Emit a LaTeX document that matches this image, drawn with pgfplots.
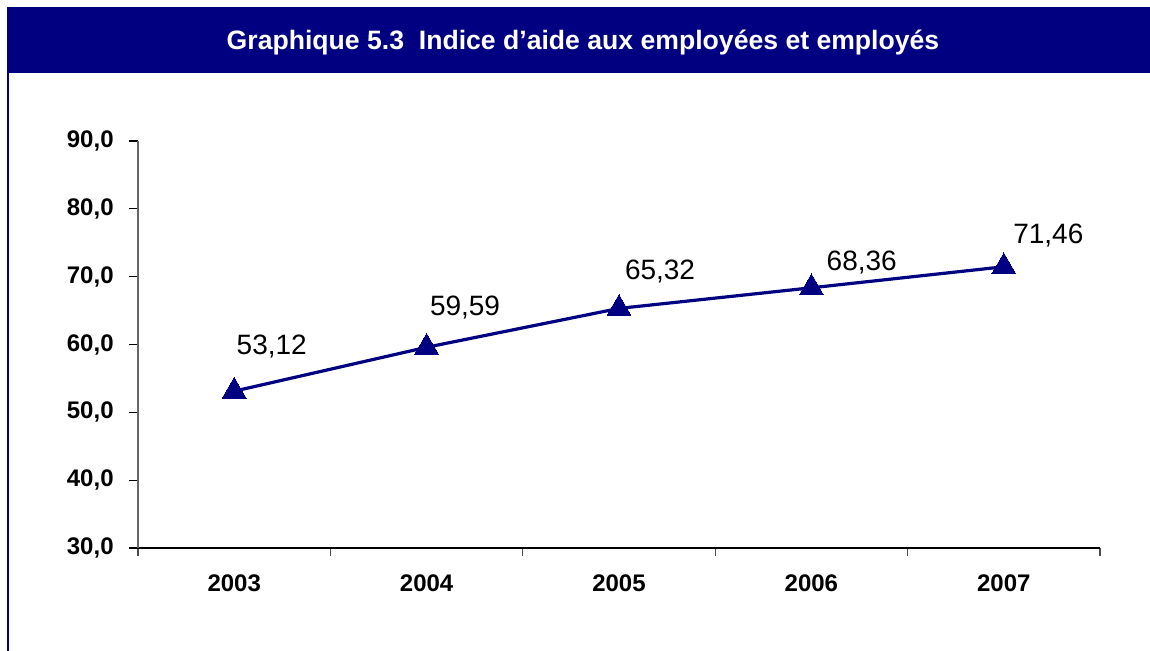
\documentclass[border=0pt]{standalone}
\usepackage{pgfplots}
\pgfplotsset{compat=1.18}
\usepackage{pgfplotstable}
\usepackage{fontspec}
\setmainfont{Liberation Sans}
\definecolor{navy}{RGB}{0,0,128}

\pgfplotstableread{
x y lbl dx dy
0 53.12 53,12 1.25 18.1
1 59.59 59,59 1.7 15.8
2 65.32 65,32 3.0 14.55
3 68.36 68,36 7.65 8.55
4 71.46 71,46 4.75 11.75
}\datatable

\begin{document}
\begin{tikzpicture}
\useasboundingbox (0,0) rectangle (575pt,-325.5pt);
\fill[navy] (3.5pt,-3.5pt) rectangle (575pt,-36.3pt);
\draw[navy, line width=1pt] (4pt,-36pt) -- (4pt,-325.5pt);
\node[anchor=base, text=white, inner sep=0pt, font=\fontsize{13.3}{15}\selectfont\bfseries]
  at (291.5pt,-24.7pt) {Graphique 5.3\ \ Indice d’aide aux employées et employés};
\begin{axis}[
  at={(69pt,-274pt)}, anchor=south west,
  scale only axis, width=481pt, height=203.5pt,
  xmin=-0.5, xmax=4.5, ymin=30, ymax=90,
  axis x line*=bottom, axis y line*=left,
  x axis line style={black, line width=0.6pt},
  y axis line style={black!60, line width=0.6pt},
  tick align=outside,
  xtick={0,1,2,3,4},
  xticklabels={2003,2004,2005,2006,2007},
  major x tick style={draw=none},
  minor xtick={-0.5,0.5,1.5,2.5,3.5,4.5},
  minor x tick style={black!70, line width=0.6pt},
  minor tick length=4pt,
  major tick length=4.5pt,
  ytick={30,40,50,60,70,80,90},
  yticklabels={{30,0},{40,0},{50,0},{60,0},{70,0},{80,0},{90,0}},
  y tick style={black, line width=0.6pt},
  ticklabel style={font=\fontsize{12}{14}\selectfont\bfseries},
  yticklabel style={anchor=east, inner sep=0pt, xshift=-7.5pt},
  xticklabel style={anchor=base, inner sep=0pt, yshift=-17pt},
  clip=false,
]
\addplot[navy, line width=1.6pt, mark=triangle*, mark size=6.9pt,
  mark options={fill=navy, draw=navy, line width=0pt},
  point meta=explicit symbolic,
  visualization depends on={\thisrow{dx}\as\dx},
  visualization depends on={\thisrow{dy}\as\dy},
  nodes near coords,
  nodes near coords style={anchor=base west, inner sep=0pt, text=black,
    font=\fontsize{14}{16}\selectfont, xshift=\dx pt, yshift=\dy pt},
] table[x=x, y=y, meta=lbl] {\datatable};
\end{axis}
\end{tikzpicture}
\end{document}
